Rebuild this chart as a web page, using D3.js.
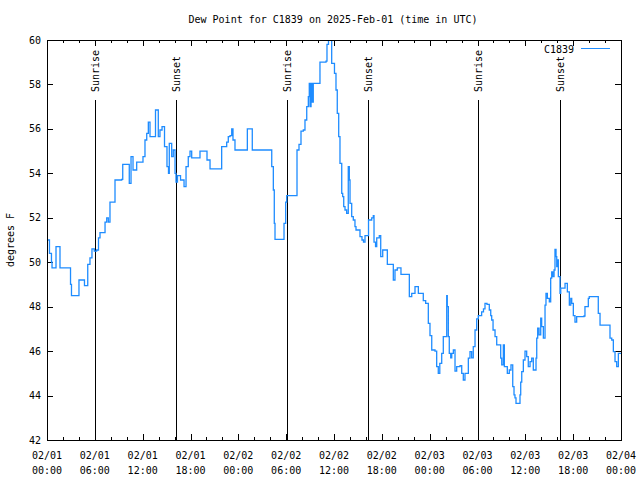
<!DOCTYPE html>
<html>
<head>
<meta charset="utf-8">
<script src="https://cdn.jsdelivr.net/npm/d3@7"></script>
<style>
  html, body { margin: 0; padding: 0; background: #fff; }
  svg { display: block; }
  text { font-family: "DejaVu Sans Mono", "Liberation Mono", monospace; font-size: 10px; fill: #000; }
</style>
</head>
<body>
<svg id="chart" width="640" height="480"></svg>
<script>
// ---- data (hours since 2025-02-01 00:00 UTC, dew point in degrees F) ----
const hours = [
  0.00,0.31,0.56,0.63,0.88,1.13,1.42,1.63,2.80,2.95,3.07,3.76,4.01,4.52,4.70,4.95,5.11,5.39,5.64,5.93,
  6.23,6.46,6.65,7.15,7.28,7.49,7.69,7.90,8.32,8.53,9.37,9.50,10.16,10.32,10.54,10.79,11.25,11.88,12.04,12.29,
  12.51,12.71,12.92,13.33,13.61,13.96,14.17,14.43,14.74,15.05,15.24,15.34,15.64,15.84,16.06,16.18,16.37,16.60,16.75,17.02,
  17.19,17.44,17.72,17.94,18.15,18.98,19.19,19.82,20.07,20.45,21.70,21.91,22.27,22.54,22.74,22.96,23.17,23.33,23.58,24.96,
  25.13,25.46,25.75,27.97,28.19,28.39,28.51,28.60,29.57,29.73,29.94,30.07,31.23,31.36,31.61,31.86,32.15,32.36,32.58,32.78,
  32.90,32.99,33.12,33.28,33.40,34.03,34.24,35.00,35.12,35.31,35.56,35.71,35.91,36.06,36.25,36.41,36.59,36.75,36.97,37.09,
  37.22,37.38,37.59,37.79,37.92,38.01,38.22,38.42,38.63,38.76,39.05,39.26,39.51,39.70,39.89,40.18,40.33,40.73,40.93,41.02,
  41.21,41.36,41.68,41.86,42.11,42.52,42.69,43.24,43.44,43.65,43.94,44.19,44.40,45.25,45.45,45.75,46.16,46.58,47.00,47.20,
  47.50,47.83,48.04,48.26,48.67,48.88,49.08,49.27,49.51,49.71,49.92,50.14,50.21,50.34,50.46,50.64,50.77,50.97,51.18,51.39,
  51.81,52.02,52.22,52.43,52.72,52.85,53.06,53.27,53.47,53.69,53.90,54.10,54.52,54.75,54.94,55.19,55.48,55.66,55.78,55.95,
  56.20,56.41,56.74,56.91,57.04,57.24,57.37,57.58,57.74,57.99,58.20,58.42,58.58,58.70,58.83,59.25,59.33,59.42,59.55,59.75,
  59.96,60.17,60.37,60.59,60.80,61.00,61.21,61.34,61.43,61.55,61.72,61.93,62.05,62.26,62.47,62.59,62.76,63.01,63.18,63.31,
  63.43,63.60,63.72,63.85,63.94,64.01,64.14,64.35,64.44,64.76,64.98,65.10,65.27,65.52,65.70,65.82,66.02,66.23,66.44,67.36,
  67.48,67.90,68.02,69.03,69.15,69.37,70.53,70.62,70.84,71.04,71.25,71.46,71.67,71.89,72.00
];
const dewPoint = [
  51.0,50.4,50.0,49.75,49.75,50.7,50.7,49.75,49.75,49.0,48.5,48.5,49.2,49.2,48.95,48.95,49.9,50.2,50.6,50.5,
  50.55,51.1,51.33,51.33,51.8,52.0,51.8,52.7,52.7,53.7,53.73,54.4,54.4,53.55,54.75,54.15,54.5,54.5,54.75,55.5,
  55.8,56.3,55.65,55.65,56.85,55.65,55.95,56.1,55.2,54.3,54.0,55.35,54.75,55.05,54.0,53.6,53.9,53.9,53.7,53.7,
  53.4,54.3,54.75,55.0,54.7,54.7,55.0,55.0,54.6,54.2,54.2,55.2,55.2,55.4,55.65,55.7,56.0,55.5,55.05,55.05,
  56.0,56.0,55.05,55.05,54.3,53.25,51.75,51.03,51.03,51.75,52.7,53.0,53.0,55.05,55.3,55.9,55.95,56.4,57.0,57.45,
  58.05,57.0,58.05,57.2,58.05,58.05,59.0,59.05,59.8,60.3,60.3,58.95,58.95,58.5,57.75,56.7,55.65,54.45,53.1,52.95,
  52.5,52.35,52.2,54.3,53.7,52.65,52.05,51.9,51.6,51.45,51.45,51.15,51.0,50.9,51.2,51.2,51.9,52.0,52.1,50.9,
  50.7,51.1,51.2,50.25,50.55,50.55,49.9,49.9,49.2,49.65,49.75,49.75,49.45,49.45,48.45,48.6,48.9,48.6,48.6,48.27,
  48.15,47.25,46.7,46.05,46.0,45.3,45.0,45.45,45.9,46.65,46.65,48.5,48.0,46.65,45.9,45.7,45.9,46.05,45.1,45.3,
  45.35,45.0,44.7,45.0,45.0,45.68,45.98,45.7,46.2,46.95,47.45,47.6,47.77,47.9,48.15,48.1,47.85,47.6,47.4,46.95,
  46.65,46.28,46.28,45.68,45.38,46.28,45.3,45.3,45.0,45.15,45.38,44.4,44.03,43.9,43.65,43.65,44.03,44.6,45.08,45.6,
  46.0,45.75,45.3,45.53,45.68,45.15,45.15,45.68,46.58,47.03,46.73,47.48,47.1,46.58,48.07,48.6,48.37,48.22,49.28,49.57,
  49.35,49.65,50.58,50.25,49.8,50.1,49.35,48.6,48.83,48.83,49.05,49.05,48.67,48.07,48.37,48.15,47.6,47.3,47.55,47.58,
  48.0,48.37,48.45,48.45,47.7,47.17,47.17,46.58,46.5,45.98,45.53,45.3,45.9,45.9,45.9
];
const sunTimes  = [6.02, 16.18, 30.10, 40.27, 54.06, 64.35];
const sunLabels = ["Sunrise", "Sunset", "Sunrise", "Sunset", "Sunrise", "Sunset"];
const tickHours = [0, 6, 12, 18, 24, 30, 36, 42, 48, 54, 60, 66, 72];
const tickDates = ["02/01","02/01","02/01","02/01","02/02","02/02","02/02","02/02","02/03","02/03","02/03","02/03","02/04"];
const tickTimes = ["00:00","06:00","12:00","18:00","00:00","06:00","12:00","18:00","00:00","06:00","12:00","18:00","00:00"];
const minorHours = d3.range(0, 73, 2);
const yTicks = [42, 44, 46, 48, 50, 52, 54, 56, 58, 60];
const seriesName = "C1839";
const titleText = "Dew Point for C1839 on 2025-Feb-01 (time in UTC)";
const yLabel = "degrees F";

// ---- layout ----
const L = 47, T = 40, R = 621, B = 440;
const color = "#1e8cff";
const svg = d3.select("#chart");
const x = d3.scaleLinear().domain([0, 72]).range([L, R]);
const y = d3.scaleLinear().domain([42, 60]).range([B, T]);

svg.append("defs").append("clipPath").attr("id", "plotclip")
  .append("rect").attr("x", L).attr("y", T).attr("width", R - L).attr("height", B - T);

// title
svg.append("text").attr("x", 333).attr("y", 19).attr("dy", "0.35em")
  .attr("text-anchor", "middle").text(titleText);

// y label
svg.append("text").attr("transform", `translate(10,240) rotate(-90)`)
  .attr("dy", "0.35em").attr("text-anchor", "middle").text(yLabel);

// axes ticks (inward) using d3 axes
function tickAxis(axisFn, scale, vals, size, tx, ty) {
  const g = svg.append("g").attr("transform", `translate(${tx},${ty})`)
    .call(axisFn(scale).tickValues(vals).tickSizeInner(size).tickSizeOuter(0).tickFormat(""));
  g.select(".domain").remove();
  g.selectAll("line").attr("stroke", "#000").attr("shape-rendering", "crispEdges");
  return g;
}
tickAxis(d3.axisBottom, x, minorHours, -3, 0, B);
tickAxis(d3.axisBottom, x, tickHours, -6, 0, B);
tickAxis(d3.axisTop, x, minorHours, -3, 0, T);
tickAxis(d3.axisTop, x, tickHours, -6, 0, T);
tickAxis(d3.axisLeft, y, yTicks, -6, L, 0);
tickAxis(d3.axisRight, y, yTicks, -6, R, 0);

// x tick labels (two lines)
const xl = svg.append("g");
tickHours.forEach((h, i) => {
  xl.append("text").attr("x", x(h)).attr("y", 455).attr("dy", "0.35em")
    .attr("text-anchor", "middle").text(tickDates[i]);
  xl.append("text").attr("x", x(h)).attr("y", 470).attr("dy", "0.35em")
    .attr("text-anchor", "middle").text(tickTimes[i]);
});
// y tick labels
svg.append("g").selectAll("text").data(yTicks).join("text")
  .attr("x", 41).attr("y", d => y(d)).attr("dy", "0.35em")
  .attr("text-anchor", "end").text(d => d);

// sunrise / sunset markers
const sg = svg.append("g");
sunTimes.forEach((t, i) => {
  const xp = Math.round(x(t)) + 0.5;
  sg.append("line").attr("x1", xp).attr("x2", xp).attr("y1", 100).attr("y2", B)
    .attr("stroke", "#000").attr("stroke-width", 1).attr("shape-rendering", "crispEdges");
  sg.append("text").attr("transform", `translate(${xp},92) rotate(-90)`)
    .attr("dy", "0.35em").attr("text-anchor", "start").text(sunLabels[i]);
});

// data line (stepped, as the station reports discrete readings)
const pts = hours.map((h, i) => [h, dewPoint[i]]);
svg.append("path").datum(pts)
  .attr("clip-path", "url(#plotclip)")
  .attr("fill", "none").attr("stroke", color).attr("stroke-width", 1.3)
  .attr("stroke-linejoin", "miter")
  .attr("d", d3.line().x(d => x(d[0])).y(d => y(d[1])).curve(d3.curveStepAfter));

// border
svg.append("rect").attr("x", L + 0.5).attr("y", T + 0.5).attr("width", R - L).attr("height", B - T)
  .attr("fill", "none").attr("stroke", "#000").attr("shape-rendering", "crispEdges");

// legend
svg.append("text").attr("x", 574).attr("y", 49).attr("dy", "0.35em")
  .attr("text-anchor", "end").text(seriesName);
svg.append("line").attr("x1", 581).attr("x2", 610).attr("y1", 48.5).attr("y2", 48.5)
  .attr("stroke", color).attr("stroke-width", 1).attr("shape-rendering", "crispEdges");
</script>
</body>
</html>
